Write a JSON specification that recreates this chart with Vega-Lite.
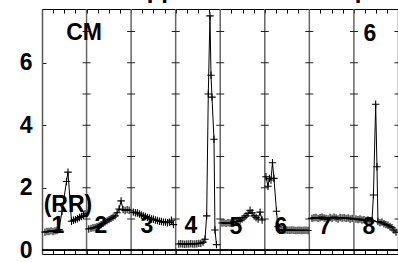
{
 "$schema": "https://vega.github.io/schema/vega-lite/v6.json",
 "width": 356,
 "height": 245,
 "autosize": {"type": "none"},
 "padding": {"left": 42, "top": 9, "right": 0, "bottom": 8},
 "background": "white",
 "config": {"view": {"stroke": null}, "font": "Liberation Sans"},
 "title": {"text": "Supported CM trial Up", "anchor": "start", "frame": "group", "dx": 74, "dy": 18, "offset": 4, "baseline": "alphabetic", "fontSize": 24, "fontWeight": "bold", "font": "Liberation Sans", "color": "black"},
 "datasets": {
  "lines": [{"p": 1}, {"p": 2}, {"p": 3}, {"p": 4}, {"p": 5}, {"p": 6}, {"p": 7}, {"p": 8}],
  "ticks": [{"p": 1, "v": [0,1,2,3,4,5,6,7]}, {"p": 2, "v": [0,1,2,3,4,5,6,7]}, {"p": 3, "v": [0,1,2,3,4,5,6,7]}, {"p": 4, "v": [0,1,2,3,4,5,6,7]}, {"p": 5, "v": [0,1,2,3,4,5,6,7]}, {"p": 6, "v": [0,1,2,3,4,5,6,7]}, {"p": 7, "v": [0,1,2,3,4,5,6,7]}, {"p": 8, "v": [0,1,2,3,4,5,6,7]}],
  "series": [
   {"s":1,"x":0.067,"y":0.58},{"s":1,"x":0.112,"y":0.6},{"s":1,"x":0.157,"y":0.6},{"s":1,"x":0.202,"y":0.62},{"s":1,"x":0.247,"y":0.6},{"s":1,"x":0.292,"y":0.62},{"s":1,"x":0.337,"y":0.63},{"s":1,"x":0.382,"y":0.66},{"s":1,"x":0.449,"y":1.25},{"s":1,"x":0.55,"y":2.2},{"s":1,"x":0.583,"y":2.5},{"s":1,"x":0.662,"y":0.93},{"s":1,"x":0.706,"y":0.96},{"s":1,"x":0.75,"y":0.98},{"s":1,"x":0.795,"y":1.01},{"s":1,"x":0.84,"y":1.05},{"s":1,"x":0.885,"y":1.08},{"s":1,"x":0.93,"y":1.12},{"s":1,"x":0.965,"y":1.17},
   {"s":2,"x":1.05,"y":0.68},{"s":2,"x":1.1,"y":0.7},{"s":2,"x":1.145,"y":0.72},{"s":2,"x":1.19,"y":0.73},{"s":2,"x":1.235,"y":0.75},{"s":2,"x":1.28,"y":0.78},{"s":2,"x":1.325,"y":0.82},{"s":2,"x":1.37,"y":0.86},{"s":2,"x":1.415,"y":0.9},{"s":2,"x":1.46,"y":0.94},{"s":2,"x":1.505,"y":0.98},{"s":2,"x":1.55,"y":1.02},{"s":2,"x":1.595,"y":1.06},{"s":2,"x":1.64,"y":1.1},{"s":2,"x":1.685,"y":1.2},{"s":2,"x":1.73,"y":1.32},{"s":2,"x":1.775,"y":1.58},{"s":2,"x":1.82,"y":1.3},{"s":2,"x":1.865,"y":1.27},{"s":2,"x":1.91,"y":1.3},{"s":2,"x":1.955,"y":1.28},
   {"s":3,"x":2.05,"y":1.22},{"s":3,"x":2.095,"y":1.2},{"s":3,"x":2.14,"y":1.19},{"s":3,"x":2.185,"y":1.16},{"s":3,"x":2.23,"y":1.13},{"s":3,"x":2.275,"y":1.1},{"s":3,"x":2.32,"y":1.08},{"s":3,"x":2.365,"y":1.05},{"s":3,"x":2.41,"y":1.03},{"s":3,"x":2.455,"y":1.0},{"s":3,"x":2.5,"y":0.99},{"s":3,"x":2.545,"y":0.97},{"s":3,"x":2.59,"y":0.95},{"s":3,"x":2.635,"y":0.93},{"s":3,"x":2.68,"y":0.92},{"s":3,"x":2.725,"y":0.9},{"s":3,"x":2.77,"y":0.9},{"s":3,"x":2.815,"y":0.88},{"s":3,"x":2.86,"y":0.9},{"s":3,"x":2.905,"y":0.96},{"s":3,"x":2.95,"y":0.82},
   {"s":4,"x":3.07,"y":0.2},{"s":4,"x":3.115,"y":0.21},{"s":4,"x":3.16,"y":0.2},{"s":4,"x":3.205,"y":0.19},{"s":4,"x":3.25,"y":0.2},{"s":4,"x":3.295,"y":0.2},{"s":4,"x":3.34,"y":0.21},{"s":4,"x":3.385,"y":0.2},{"s":4,"x":3.43,"y":0.2},{"s":4,"x":3.475,"y":0.21},{"s":4,"x":3.52,"y":0.22},{"s":4,"x":3.565,"y":0.22},{"s":4,"x":3.613,"y":0.26},{"s":4,"x":3.658,"y":0.35},{"s":4,"x":3.696,"y":1.1},{"s":4,"x":3.732,"y":5.0},{"s":4,"x":3.77,"y":7.5},{"s":4,"x":3.793,"y":5.6},{"s":4,"x":3.815,"y":4.9},{"s":4,"x":3.86,"y":3.55},{"s":4,"x":3.882,"y":0.65},{"s":4,"x":3.916,"y":0.18},
   {"s":5,"x":4.04,"y":0.87},{"s":5,"x":4.085,"y":0.88},{"s":5,"x":4.13,"y":0.86},{"s":5,"x":4.175,"y":0.88},{"s":5,"x":4.22,"y":0.87},{"s":5,"x":4.265,"y":0.88},{"s":5,"x":4.31,"y":0.9},{"s":5,"x":4.355,"y":0.92},{"s":5,"x":4.4,"y":0.92},{"s":5,"x":4.445,"y":0.95},{"s":5,"x":4.49,"y":1.0},{"s":5,"x":4.535,"y":1.05},{"s":5,"x":4.58,"y":1.1},{"s":5,"x":4.625,"y":1.18},{"s":5,"x":4.67,"y":1.28},{"s":5,"x":4.715,"y":1.2},{"s":5,"x":4.76,"y":1.1},{"s":5,"x":4.805,"y":1.05},{"s":5,"x":4.85,"y":1.0},{"s":5,"x":4.895,"y":1.22},{"s":5,"x":4.94,"y":0.97},
   {"s":6,"x":5.027,"y":2.35},{"s":6,"x":5.072,"y":2.05},{"s":6,"x":5.105,"y":2.3},{"s":6,"x":5.139,"y":2.25},{"s":6,"x":5.173,"y":2.8},{"s":6,"x":5.206,"y":2.3},{"s":6,"x":5.263,"y":1.25},{"s":6,"x":5.296,"y":0.75},{"s":6,"x":5.34,"y":0.66},{"s":6,"x":5.385,"y":0.65},{"s":6,"x":5.43,"y":0.64},{"s":6,"x":5.475,"y":0.65},{"s":6,"x":5.52,"y":0.64},{"s":6,"x":5.565,"y":0.64},{"s":6,"x":5.61,"y":0.65},{"s":6,"x":5.655,"y":0.64},{"s":6,"x":5.7,"y":0.63},{"s":6,"x":5.745,"y":0.64},{"s":6,"x":5.79,"y":0.64},{"s":6,"x":5.835,"y":0.63},{"s":6,"x":5.88,"y":0.64},{"s":6,"x":5.925,"y":0.64},{"s":6,"x":5.97,"y":0.63},
   {"s":7,"x":6.06,"y":1.02},{"s":7,"x":6.105,"y":1.04},{"s":7,"x":6.15,"y":1.05},{"s":7,"x":6.195,"y":1.02},{"s":7,"x":6.24,"y":1.04},{"s":7,"x":6.285,"y":1.06},{"s":7,"x":6.33,"y":1.03},{"s":7,"x":6.375,"y":1.02},{"s":7,"x":6.42,"y":1.0},{"s":7,"x":6.465,"y":1.05},{"s":7,"x":6.51,"y":1.02},{"s":7,"x":6.555,"y":1.06},{"s":7,"x":6.6,"y":1.03},{"s":7,"x":6.645,"y":1.0},{"s":7,"x":6.69,"y":1.05},{"s":7,"x":6.735,"y":1.03},{"s":7,"x":6.78,"y":1.04},{"s":7,"x":6.825,"y":1.02},{"s":7,"x":6.87,"y":1.03},{"s":7,"x":6.915,"y":1.0},{"s":7,"x":6.96,"y":1.02},
   {"s":8,"x":7.047,"y":1.0},{"s":8,"x":7.092,"y":0.98},{"s":8,"x":7.137,"y":1.0},{"s":8,"x":7.181,"y":0.97},{"s":8,"x":7.226,"y":0.98},{"s":8,"x":7.271,"y":0.95},{"s":8,"x":7.316,"y":0.97},{"s":8,"x":7.361,"y":0.94},{"s":8,"x":7.406,"y":0.95},{"s":8,"x":7.439,"y":1.77},{"s":8,"x":7.489,"y":4.67},{"s":8,"x":7.518,"y":2.67},{"s":8,"x":7.54,"y":0.92},{"s":8,"x":7.585,"y":0.88},{"s":8,"x":7.63,"y":0.9},{"s":8,"x":7.675,"y":0.85},{"s":8,"x":7.72,"y":0.82},{"s":8,"x":7.765,"y":0.8},{"s":8,"x":7.81,"y":0.75},{"s":8,"x":7.855,"y":0.72},{"s":8,"x":7.899,"y":0.65},{"s":8,"x":7.944,"y":0.58}
  ],
  "labels": [
   {"t":"CM","x":0.943,"y":6.95},{"t":"6","x":7.36,"y":6.92},{"t":"(RR)","x":0.583,"y":1.45},
   {"t":"1","x":0.359,"y":0.78},{"t":"2","x":1.324,"y":0.78},{"t":"3","x":2.356,"y":0.78},{"t":"4","x":3.344,"y":0.78},{"t":"5","x":4.354,"y":0.74},{"t":"6","x":5.364,"y":0.76},{"t":"7","x":6.351,"y":0.74},{"t":"8","x":7.338,"y":0.74}
  ]
 },
 "layer": [
  {
   "data": {"name": "lines"},
   "mark": {"type": "rule", "color": "#666666", "strokeWidth": 1.5},
   "encoding": {
    "x": {"field": "p", "type": "quantitative", "scale": {"domain": [0, 7.99], "nice": false, "zero": false},
      "axis": {"orient": "bottom", "title": null, "labels": false, "grid": false, "tickSize": -4, "tickColor": "black", "domainColor": "black", "domainWidth": 1,
       "values": [0,0.25,0.5,0.75,1,1.25,1.5,1.75,2,2.25,2.5,2.75,3,3.25,3.5,3.75,4,4.25,4.5,4.75,5,5.25,5.5,5.75,6,6.25,6.5,6.75,7,7.25,7.5,7.75]}}
   }
  },
  {
   "data": {"name": "ticks"},
   "transform": [{"flatten": ["v"]}],
   "mark": {"type": "tick", "orient": "horizontal", "size": 8, "thickness": 1, "color": "#222222", "opacity": 1},
   "encoding": {
    "x": {"field": "p", "type": "quantitative",
      "axis": {"orient": "top", "title": null, "labels": false, "grid": false, "tickSize": -4, "tickColor": "black", "domainColor": "black", "domainWidth": 1,
       "values": [0,0.25,0.5,0.75,1,1.25,1.5,1.75,2,2.25,2.5,2.75,3,3.25,3.5,3.75,4,4.25,4.5,4.75,5,5.25,5.5,5.75,6,6.25,6.5,6.75,7,7.25,7.5,7.75]}},
    "y": {"field": "v", "type": "quantitative", "scale": {"domain": [-0.12, 7.72], "nice": false, "zero": false},
      "axis": {"title": null, "grid": false, "values": [0,1,2,3,4,5,6,7], "labelExpr": "datum.value % 2 == 0 ? datum.label : ''", "labelFontSize": 23, "labelFontWeight": "bold", "labelColor": "black", "labelFont": "Liberation Sans", "tickSize": -4, "tickColor": "#222222", "labelPadding": 14, "domainColor": "#555555", "domainWidth": 1.5}}
   }
  },
  {
   "data": {"name": "lines"},
   "mark": {"type": "rule", "color": "black", "strokeWidth": 1},
   "encoding": {"y": {"datum": 0}}
  },
  {
   "data": {"name": "series"},
   "mark": {"type": "line", "color": "black", "strokeWidth": 1},
   "encoding": {
    "x": {"field": "x", "type": "quantitative", "axis": null},
    "y": {"field": "y", "type": "quantitative"},
    "detail": {"field": "s", "type": "nominal"}
   }
  },
  {
   "data": {"name": "series"},
   "mark": {"type": "point", "shape": "M-1,0L1,0M0,-1L0,1", "size": 55, "filled": false, "stroke": "black", "strokeWidth": 1.1, "opacity": 1},
   "encoding": {
    "x": {"field": "x", "type": "quantitative", "axis": null},
    "y": {"field": "y", "type": "quantitative"}
   }
  },
  {
   "data": {"name": "labels"},
   "mark": {"type": "text", "font": "Liberation Sans", "fontSize": 23, "fontWeight": "bold", "color": "black", "align": "center", "baseline": "middle"},
   "encoding": {
    "x": {"field": "x", "type": "quantitative", "axis": null},
    "y": {"field": "y", "type": "quantitative"},
    "text": {"field": "t", "type": "nominal"}
   }
  }
 ],
 "resolve": {"axis": {"x": "independent"}}
}
